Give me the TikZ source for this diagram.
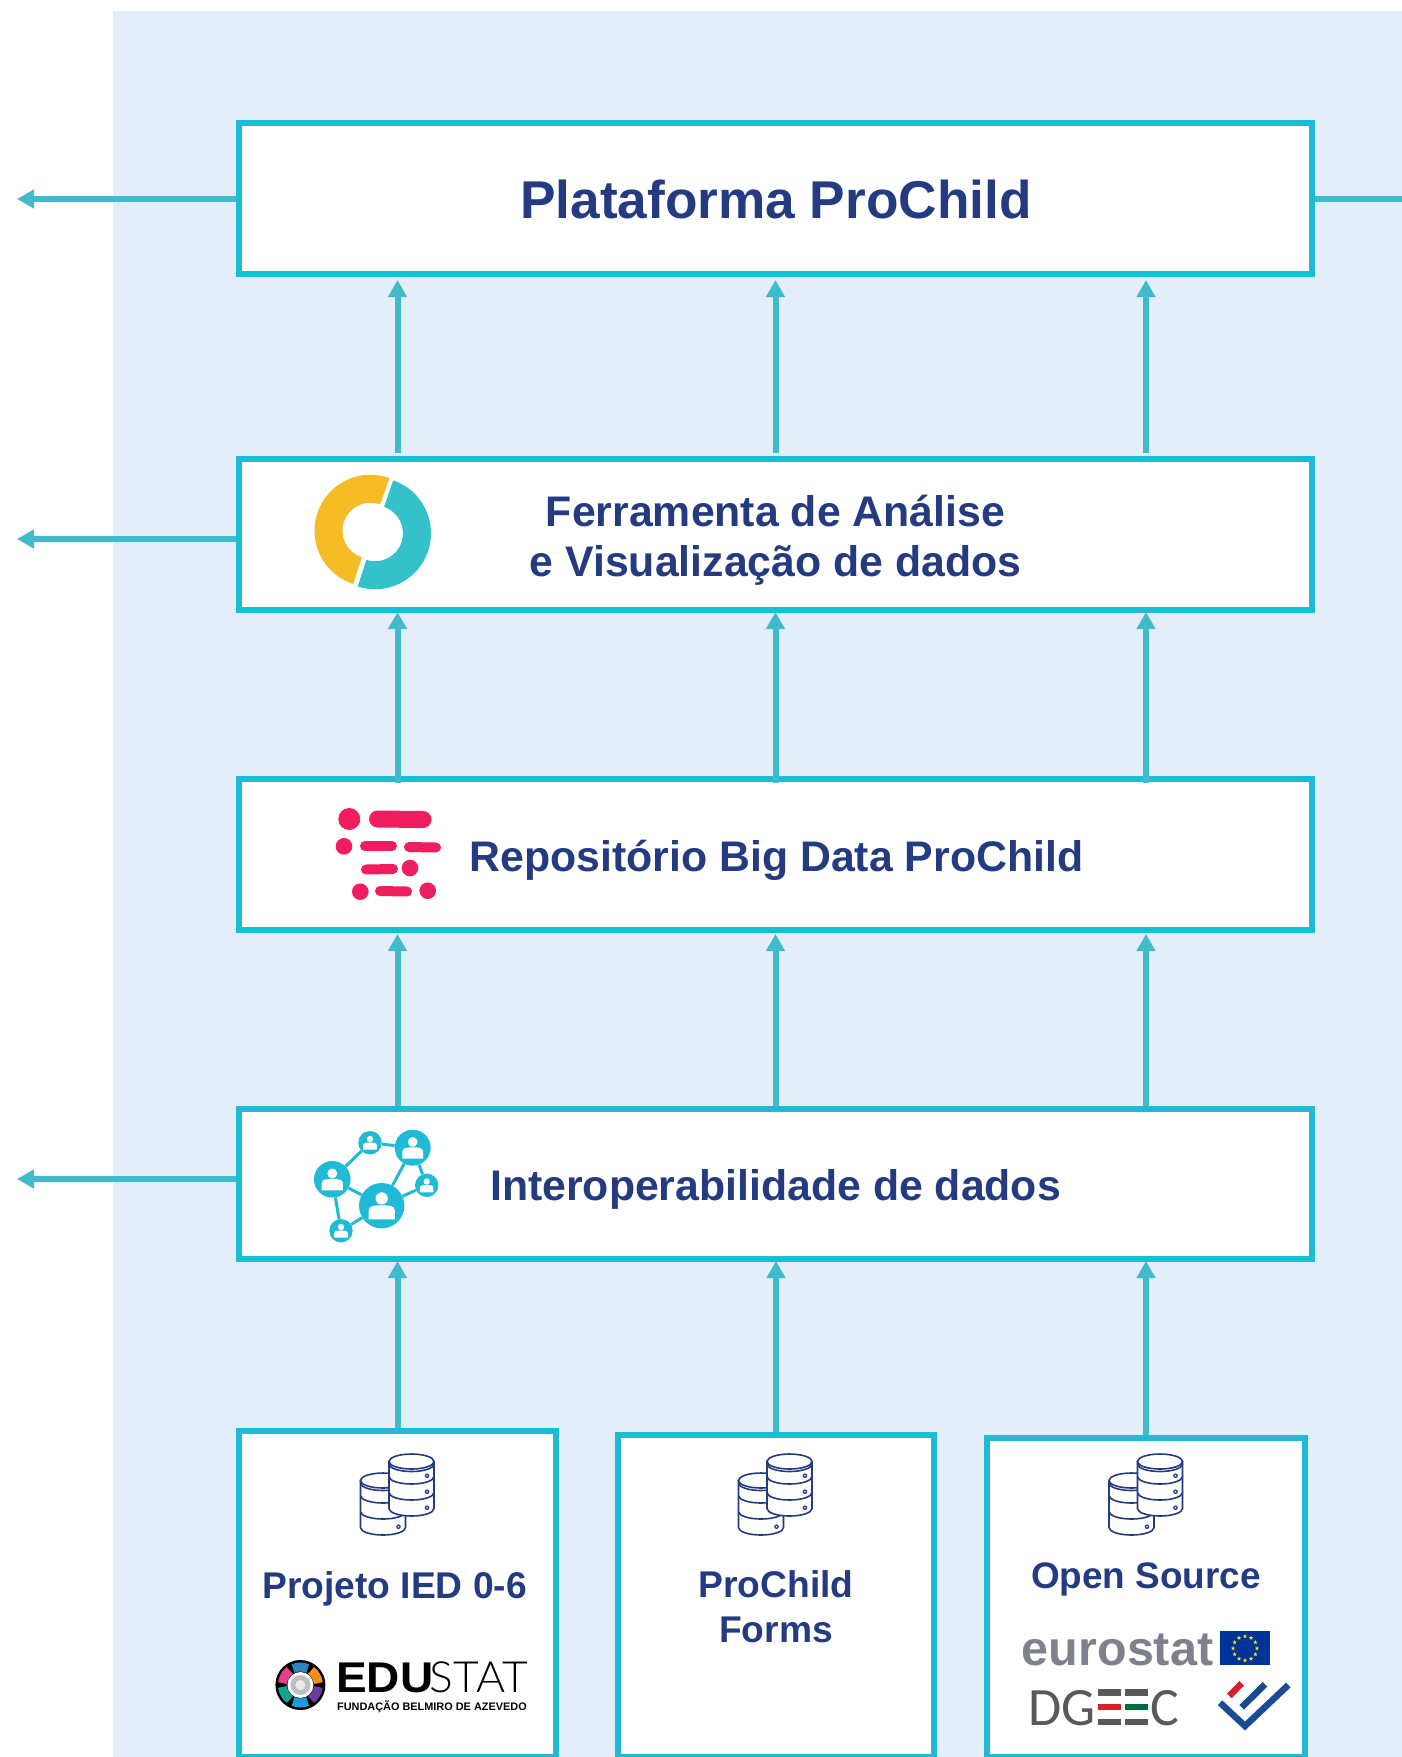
\documentclass[tikz,border=0pt]{standalone}
\usepackage{fontspec}
\setmainfont{Liberation Sans}
\newfontfamily\thinfont{Lato Light}
\newfontfamily\dgfont{Carlito}
\usetikzlibrary{arrows.meta,shapes.geometric}
\definecolor{panelblue}{HTML}{E4EEFA}
\definecolor{boxcyan}{HTML}{1FBAD6}
\definecolor{flowcyan}{HTML}{41BBCB}
\definecolor{titleblue}{HTML}{243B82}
\definecolor{donutyellow}{HTML}{F6BC26}
\definecolor{donutteal}{HTML}{35C1CA}
\definecolor{repopink}{HTML}{F01E5E}
\definecolor{logogray}{HTML}{7E818C}
\definecolor{dggray}{HTML}{58595B}
\definecolor{eublue}{HTML}{003399}
\definecolor{checkblue}{HTML}{1B4A94}
\definecolor{dgred}{HTML}{D2232A}
\definecolor{dggreen}{HTML}{006B3F}
\tikzset{
  pics/dbstack/.style={code={
    \foreach \sx/\sy in {-14.5/14.5, 14/33.5} {
      \foreach \ty in {32,16,0} {
        \draw[titleblue, line width=1.6pt, fill=white]
          (\sx-22.5,\sy-\ty) -- (\sx-22.5,\sy-\ty-15)
          arc[start angle=180, end angle=360, x radius=22.5, y radius=7.5]
          -- (\sx+22.5,\sy-\ty) -- cycle;
        \fill[titleblue] (\sx+15.5,\sy-\ty-14.2) circle (2.3);
        \fill[white] (\sx+15.5,\sy-\ty-14.2) circle (0.9);
      }
      \draw[titleblue, line width=1.6pt, fill=white] (\sx,\sy) ellipse (22.5 and 7.5);
      \draw[titleblue, line width=1.6pt] (\sx-22.5,\sy-2.5) arc[start angle=180, end angle=360, x radius=22.5, y radius=7.5];
    }
  }},
  pics/person/.style={code={
    \fill[white] (0,0.32) circle (0.27);
    \fill[white] (-0.58,-0.6) -- (-0.58,-0.22) to[out=90, in=180] (0,0.02) to[out=0, in=90] (0.58,-0.22) -- (0.58,-0.6) -- cycle;
  }}
}
\begin{document}
\begin{tikzpicture}[x=1pt, y=1pt,
  mainbox/.style={rectangle, draw=boxcyan, fill=white, line width=6pt, minimum width=1073pt, inner sep=0pt},
  mainlabel/.style={text=titleblue, font=\fontsize{42.8}{50.4}\selectfont\bfseries, align=center, inner sep=0pt},
  srcbox/.style={rectangle, draw=boxcyan, fill=white, line width=6pt, anchor=north, inner sep=0pt},
  srclabel/.style={text=titleblue, font=\fontsize{37.2}{44.5}\selectfont\bfseries, align=center, inner sep=0pt},
  flow/.style={flowcyan, line width=6pt, -{Triangle[length=17pt, width=18pt]}},
  netnode/.style={circle, fill=boxcyan, inner sep=0pt},
  netedge/.style={boxcyan, line width=3pt},
  pinkdash/.style={repopink, line width=10pt, line cap=round},
  eustar/.style={star, star points=5, star point ratio=2.4, fill=yellow!90!orange, inner sep=0pt, minimum size=4.5pt}]
  \useasboundingbox (0,0) rectangle (1402,-1757);
  \fill[white] (0,0) rectangle (1402,-1757);
  \fill[panelblue] (113,-11) rectangle (1402,-1757);

  % layers, from the top
  \node[mainbox, minimum height=151pt] (plat) at (775.5,-198.5) {};
  \node[mainbox, minimum height=151pt] (tool) at (775.5,-534.5) {};
  \node[mainbox, minimum height=151pt] (repo) at (775.5,-854.5) {};
  \node[mainbox, minimum height=150pt] (inter) at (775.5,-1184) {};
  \node[mainlabel, font=\fontsize{53.2}{60}\selectfont\bfseries] (platT) at (776,-199.5) {Plataforma ProChild};
  \node[mainlabel] (toolT) at (775.5,-540) {Ferramenta de Análise\\e Visualização de dados};
  \node[mainlabel] (repoT) at (776.5,-860.5) {Repositório Big Data ProChild};
  \node[mainlabel] (interT) at (775.5,-1189.6) {Interoperabilidade de dados};

  % sources
  \node[srcbox, minimum width=317pt, minimum height=326pt] (srcA) at (397.5,-1428) {};
  \node[srcbox, minimum width=316pt, minimum height=322pt] (srcB) at (776,-1432) {};
  \node[srcbox, minimum width=318pt, minimum height=319pt] (srcC) at (1146,-1435) {};

  % free ends of the arrows
  \coordinate (colA) at (397.5,0);
  \coordinate (colB) at (775.5,0);
  \coordinate (colC) at (1146,0);
  \coordinate (outP) at (17,-199);
  \coordinate (outT) at (17,-539);
  \coordinate (outI) at (17,-1179);
  \coordinate (outR) at (1402,-199);

  % vertical arrows
  \foreach \col in {colA,colB,colC} {
    \draw[flow] ([yshift=3pt]tool.north -| \col) -- ([yshift=-3pt]plat.south -| \col);
    \draw[flow] ([yshift=-7pt]repo.north -| \col) -- ([yshift=1pt]tool.south -| \col);
    \draw[flow] (inter.north -| \col) -- ([yshift=-1pt]repo.south -| \col);
  }
  \draw[flow] (srcA.north) -- ([yshift=1pt]inter.south -| srcA);
  \draw[flow] (srcB.north) -- ([yshift=1pt]inter.south -| srcB);
  \draw[flow] (srcC.north) -- ([yshift=1pt]inter.south -| srcC);

  % side arrows
  \draw[flow] (plat.west |- outP) -- (outP);
  \draw[flow] (tool.west |- outT) -- (outT);
  \draw[flow] (inter.west |- outI) -- (outI);
  \draw[flowcyan, line width=6pt] (plat.east |- outR) -- (outR);

  % donut
  \fill[donutyellow] (370.5,-530.7) ++(70:56) arc[start angle=70, end angle=252, radius=56] -- ++(72:28) arc[start angle=252, end angle=70, radius=28] -- cycle;
  \fill[donutteal] (375,-533.3) ++(71:56) arc[start angle=71, end angle=-108, radius=56] -- ++(72:28) arc[start angle=-108, end angle=71, radius=28] -- cycle;

  % repository mark
  \fill[repopink] (349.3,-819) circle (11);
  \draw[pinkdash, line width=17pt] (377.5,-819) -- (423,-819.5);
  \fill[repopink] (344,-846.3) circle (8.3);
  \draw[pinkdash] (365,-846) -- (392,-846);
  \draw[pinkdash] (409,-847) -- (436,-847.5);
  \draw[pinkdash] (366,-869.5) -- (393,-869);
  \fill[repopink] (410,-868) circle (8.3);
  \fill[repopink] (360.3,-891.7) circle (8.3);
  \draw[pinkdash] (380,-891) -- (407,-891.5);
  \fill[repopink] (427.7,-890.7) circle (8.3);

  % network mark
  \node[netnode, minimum size=36.6pt] (netA) at (332.3,-1179.3) {};
  \node[netnode, minimum size=23.4pt] (netB) at (370,-1142.7) {};
  \node[netnode, minimum size=36pt] (netC) at (412.7,-1147.7) {};
  \node[netnode, minimum size=23.4pt] (netD) at (426.7,-1185.3) {};
  \node[netnode, minimum size=45.4pt] (netE) at (381.7,-1205.7) {};
  \node[netnode, minimum size=23.4pt] (netF) at (341,-1230.7) {};
  \foreach \a/\b in {netA/netB,netB/netC,netC/netE,netC/netD,netD/netE,netA/netE,netA/netF,netF/netE}
    \draw[netedge] (\a) -- (\b);
  \foreach \who/\r in {netA/18.3,netB/11.7,netC/18,netD/11.7,netE/22.7,netF/11.7}
    \pic[x=\r pt, y=\r pt] at (\who) {person};

  % database marks
  \pic at (397.5,-1495) {dbstack};
  \pic at (775.5,-1495) {dbstack};
  \pic at (1146,-1495) {dbstack};

  % source labels
  \node[srclabel] (labA) at (394.5,-1589) {Projeto IED 0-6};
  \node[srclabel] (labB) at (776,-1606.5) {ProChild\\Forms};
  \node[srclabel, font=\fontsize{36.9}{44}\selectfont\bfseries] (labC) at (1146,-1579.5) {Open Source};

  % edustat logo
  \fill[black] (300.4,-1685) circle (25);
  \foreach \ang/\colr in {90/2E86C1,30/F18E1C,-30/6A3A9C,-90/1E9BD7,-150/12A38E,150/E83E8C} {
    \definecolor{segcol}{HTML}{\colr}
    \draw[segcol, line width=9pt] (300.4,-1685) ++(\ang-24:18) arc[start angle=\ang-24, end angle=\ang+24, radius=18];
  }
  \fill[white] (300.4,-1685) circle (13);
  \fill[black!25] (300.4,-1685) circle (10);
  \fill[black!8] (300.4,-1685) circle (5);
  \node[anchor=base west, inner sep=0pt, xscale=1.07, transform shape, font=\fontsize{43}{43}\selectfont\bfseries] (eduA) at (336,-1692.7) {EDU};
  \node[anchor=base east, inner sep=0pt, xscale=1.03, transform shape, font=\fontsize{43}{43}\selectfont\thinfont] (eduB) at (528,-1692.7) {STAT};
  \node[anchor=base west, inner sep=0pt, font=\fontsize{10.9}{12}\selectfont\bfseries] (eduC) at (337,-1710.7) {FUNDAÇÃO BELMIRO DE AZEVEDO};

  % eurostat logo
  \node[anchor=base west, inner sep=0pt, text=logogray, font=\fontsize{48.5}{50}\selectfont\bfseries] (euro) at (1021.7,-1665) {eurostat};
  \fill[eublue] (1220,-1631) rectangle (1270,-1665);
  \foreach \ang in {0,30,...,330}
    \node[eustar] (star\ang) at ([shift={(\ang:12)}]1245,-1648.3) {};

  % dgeec logo
  \node[anchor=base west, inner sep=0pt, text=dggray, font=\fontsize{54}{54}\selectfont\dgfont] (dgA) at (1028,-1725) {DG};
  \node[anchor=base east, inner sep=0pt, text=dggray, font=\fontsize{54}{54}\selectfont\dgfont] (dgB) at (1179,-1725) {C};
  \foreach \xa/\xb/\midcol in {1097.7/1120.7/dgred,1125/1147.7/dggreen} {
    \fill[dggray] (\xa,-1689.3) rectangle (\xb,-1696);
    \fill[\midcol] (\xa,-1704) rectangle (\xb,-1710);
    \fill[dggray] (\xa,-1719) rectangle (\xb,-1725);
  }
  \draw[checkblue, line width=6.5pt] (1220,-1702.7) -- (1245,-1726) -- (1288.3,-1685);
  \draw[checkblue, line width=6.5pt] (1241.7,-1707.3) -- (1265,-1684.3);
  \draw[dgred, line width=6.5pt] (1229.3,-1696) -- (1241.7,-1683.3);
\end{tikzpicture}
\end{document}
